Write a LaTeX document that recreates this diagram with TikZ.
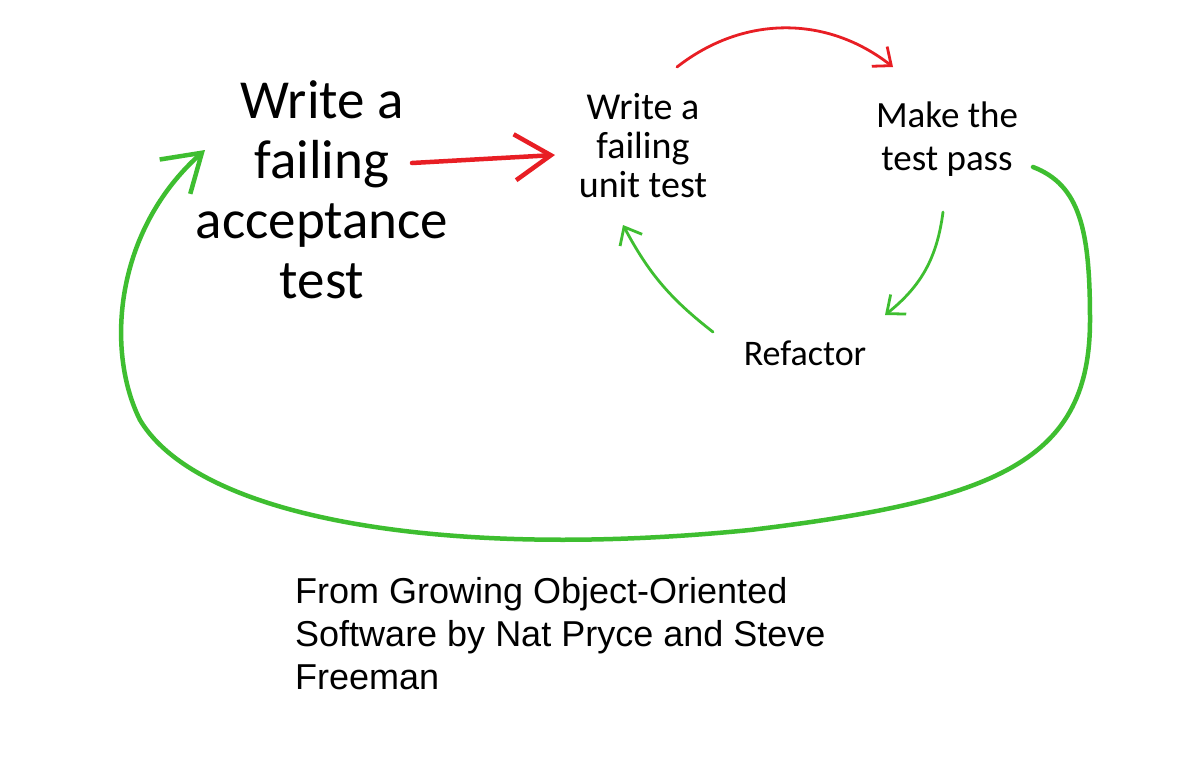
\documentclass[tikz,border=0pt]{standalone}
\usepackage{fontspec}
\setmainfont{Carlito}
\newfontfamily\capfont{Liberation Sans}
\usetikzlibrary{arrows.meta}
\definecolor{penred}{RGB}{232,30,36}
\definecolor{pengreen}{RGB}{62,190,48}

\begin{document}
\begin{tikzpicture}[x=1pt,y=-1pt,
  hand/.style={align=center,inner sep=0pt},
  redpen/.style={draw=penred,line cap=round,line join=round},
  greenpen/.style={draw=pengreen,line cap=round,line join=round},
  bigtip/.style={-{Straight Barb[length=36pt,width=46pt]}},
  smalltip/.style={-{Straight Barb[length=15pt,width=25pt]}}]
  % 画布
  \useasboundingbox[fill=white] (0,0) rectangle (1186,774);

  % 四个步骤
  \node[hand,font=\fontsize{55}{60}\selectfont] (acc) at (322,190)
    {Write a\\failing\\acceptance\\test};
  \node[hand,font=\fontsize{38}{39}\selectfont] (unit) at (643,146)
    {Write a\\failing\\unit test};
  \node[hand,font=\fontsize{37}{43}\selectfont] (pass) at (947,139)
    {Make the\\test pass};
  \node[hand,font=\fontsize{36}{40}\selectfont] (refac) at (805,353) {Refactor};

  % 红色箭头
  \draw[redpen,line width=4.5pt,bigtip]
    ([shift={(90,-27)}]acc.center) -- ([shift={(-88,9)}]unit.center);
  \draw[redpen,line width=2.8pt,smalltip]
    ([shift={(34,-79)}]unit.center) to[bend left=38] ([shift={(-54,-72)}]pass.center);

  % 内循环
  \draw[greenpen,line width=2.8pt,smalltip]
    ([shift={(-4,73)}]pass.center) to[bend left=22] ([shift={(80,-38)}]refac.center);
  \draw[greenpen,line width=2.8pt,smalltip]
    ([shift={(-92,-21)}]refac.center) to[bend left=12] ([shift={(-20,79)}]unit.center);

  % 外循环
  \draw[greenpen,line width=4.5pt,bigtip]
    ([shift={(86,28)}]pass.center)
    .. controls (1080,185) and (1090,230) .. (1090,320)
    .. controls (1090,460) and (1000,500) .. (750,530)
    .. controls (450,560) and (200,520) .. (140,420)
    .. controls (105,350) and (115,230) .. ([shift={(-117,-40)}]acc.center);

  % 出处
  \node[anchor=north west,align=left,inner sep=0pt,
    font=\capfont\fontsize{36}{43}\selectfont] (src) at (295,577)
    {From Growing Object-Oriented\\Software by Nat Pryce and Steve\\Freeman};
\end{tikzpicture}
\end{document}
